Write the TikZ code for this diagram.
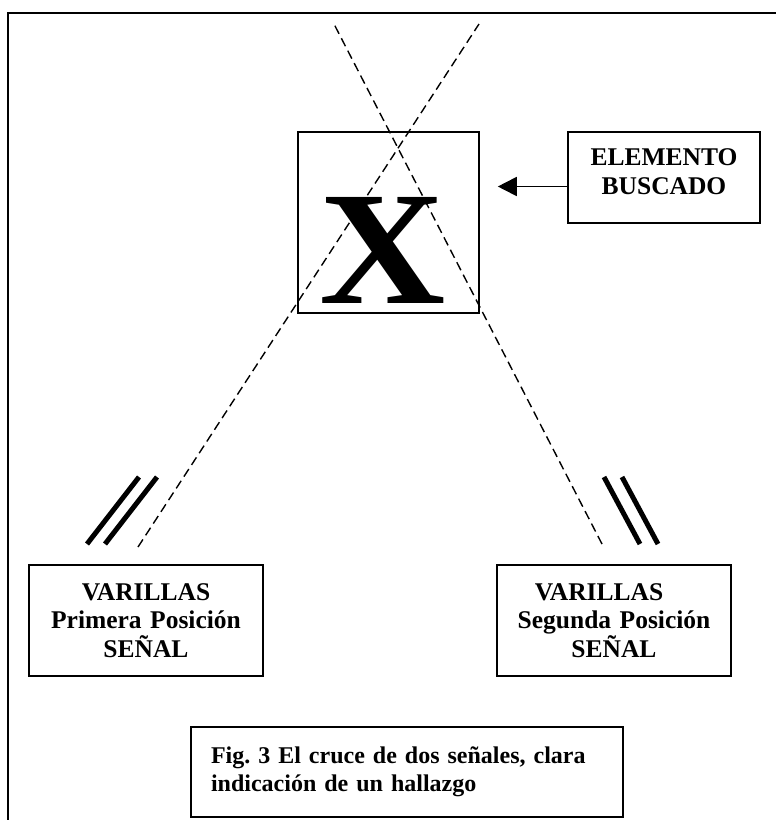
\documentclass[tikz,border=0pt]{standalone}
\usepackage{fontspec}
\setmainfont{Liberation Serif}
\usepackage{graphicx}
\usetikzlibrary{arrows.meta}

\begin{document}
\begin{tikzpicture}[x=1pt,y=-1pt,
    framebox/.style={
      draw=black,
      line width=1.6pt,
      inner sep=0pt,
      align=center,
      font={\fontsize{25.5}{28.5}\selectfont\bfseries\frenchspacing}
    },
    signal/.style={dash pattern=on 9pt off 5pt, line width=1.4pt},
    rod/.style={line width=5pt},
    pointer/.style={-{Triangle[length=19pt,width=19pt]}, line width=1.8pt}
  ]
  \useasboundingbox (0,0) rectangle (776,820);

  % page frame
  \draw[line width=2pt] (8,820) -- (8,13) -- (776,13);

  % element searched for
  \node[framebox, minimum width=181pt, minimum height=181pt] (xbox) at (388.5,222.5) {};
  \node[anchor=base, inner sep=0pt, font={\fontsize{162}{162}\selectfont\bfseries}] (letter) at (382.5,303) {\scalebox{1.08}[1]{X}};

  \node[framebox, text width=180pt, minimum width=192pt, minimum height=91pt,
    text depth=40pt] (buscado) at (664,177.5) {ELEMENTO\\BUSCADO};

  \draw[pointer, shorten >=18pt] ([yshift=-9pt]buscado.west) -- ([yshift=-9pt]buscado.west -| xbox.east);

  % rod positions
  \node[framebox, text width=220pt, minimum width=234pt, minimum height=111pt]
    (varilla1) at (146,620.5) {VARILLAS\\Primera Posición\\SEÑAL};
  \node[framebox, text width=220pt, minimum width=234pt, minimum height=111pt]
    (varilla2) at (614,620.5) {VARILLAS\rule{30pt}{0pt}\\Segunda Posición\\SEÑAL};

  \node[framebox, align=left, text width=392pt, inner xsep=20pt, minimum height=90pt,
    font={\fontsize{24}{28.5}\selectfont\bfseries\frenchspacing}]
    (caption) at (407,772) {Fig. 3 El cruce de dos señales, clara\\indicación de un hallazgo};

  % rods
  \draw[rod] (87,544) -- (139,477);
  \draw[rod] (105,544) -- (157,477);
  \draw[rod] (640,544) -- (604,477);
  \draw[rod] (658,544) -- (622,477);

  % signal lines
  \coordinate (first-top) at (479,24);
  \coordinate (first-end) at (138,547);
  \coordinate (second-top) at (334,24);
  \coordinate (second-end) at (602,544);
  \draw[signal] (first-end) -- (first-top);
  \draw[signal] (second-end) -- (second-top);

\end{tikzpicture}
\end{document}
